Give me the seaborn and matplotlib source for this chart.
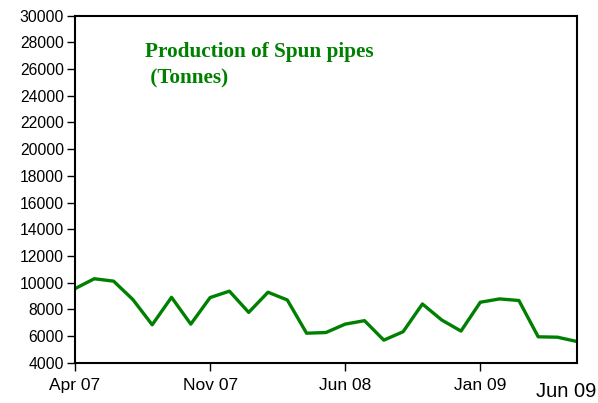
import matplotlib
matplotlib.use("Agg")
import matplotlib.pyplot as plt
import matplotlib.transforms as mtransforms
import numpy as np
import pandas as pd
import seaborn as sns

# Monthly production of spun pipes, Apr 2007 .. Jun 2009
months = pd.date_range("2007-04-01", "2009-06-01", freq="MS")
production = [9550, 10290, 10110, 8730, 6840, 8900, 6890, 8880, 9360, 7770,
              9280, 8700, 6210, 6260, 6890, 7150, 5690, 6320, 8400, 7200,
              6370, 8530, 8780, 8660, 5940, 5910, 5590]
tick_labels = ["Apr 07", "Nov 07", "Jun 08", "Jan 09"]
tick_months = [0, 7, 14, 21]
last_label = "Jun 09"
title_lines = ["Production of Spun pipes", " (Tonnes)"]

sns.set_style("ticks")
plt.rcParams["font.family"] = ["Liberation Sans", "DejaVu Sans"]

df = pd.DataFrame({"idx": np.arange(len(production)), "value": production})

fig = plt.figure(figsize=(5.98, 4.03), dpi=100)
ax = fig.add_axes([75 / 598, 1 - 362.7 / 403, (576.8 - 75) / 598, (362.7 - 15.7) / 403])

green = "#008000"
sns.lineplot(data=df, x="idx", y="value", ax=ax, color=green, linewidth=2.4)

ax.set_xlim(0, len(production) - 1)
ax.set_ylim(4000, 30000)
ax.set_yticks(np.arange(4000, 30001, 2000))
ax.set_xticks(tick_months)
ax.set_xticklabels(tick_labels)
ax.set_xlabel("")
ax.set_ylabel("")

ax.tick_params(axis="both", direction="out", length=6, width=1.0, color="black",
               labelcolor="black")
ax.tick_params(axis="x", pad=5, labelsize=12.5)
ax.tick_params(axis="y", pad=2, labelsize=11.3)

for s in ax.spines.values():
    s.set_visible(True)
    s.set_color("black")
    s.set_linewidth(1.5)

# Final month label, slightly larger and nudged in from the edge
offset = mtransforms.ScaledTranslation(-11 / 100, 0, fig.dpi_scale_trans)
trans = mtransforms.blended_transform_factory(ax.transData, ax.transAxes) + offset
ax.text(len(production) - 1, -0.083, last_label, transform=trans, ha="center",
        va="center", fontsize=14.5, color="black")

# Chart title inside the plot area
for i, line in enumerate(title_lines):
    fig.text(145 / 598, 1 - (57 + 26 * i) / 403, line, ha="left", va="baseline",
             fontsize=15.3, fontweight="bold", color=green,
             family=["Liberation Serif", "DejaVu Serif"])

fig.savefig("out.png", dpi=100)
